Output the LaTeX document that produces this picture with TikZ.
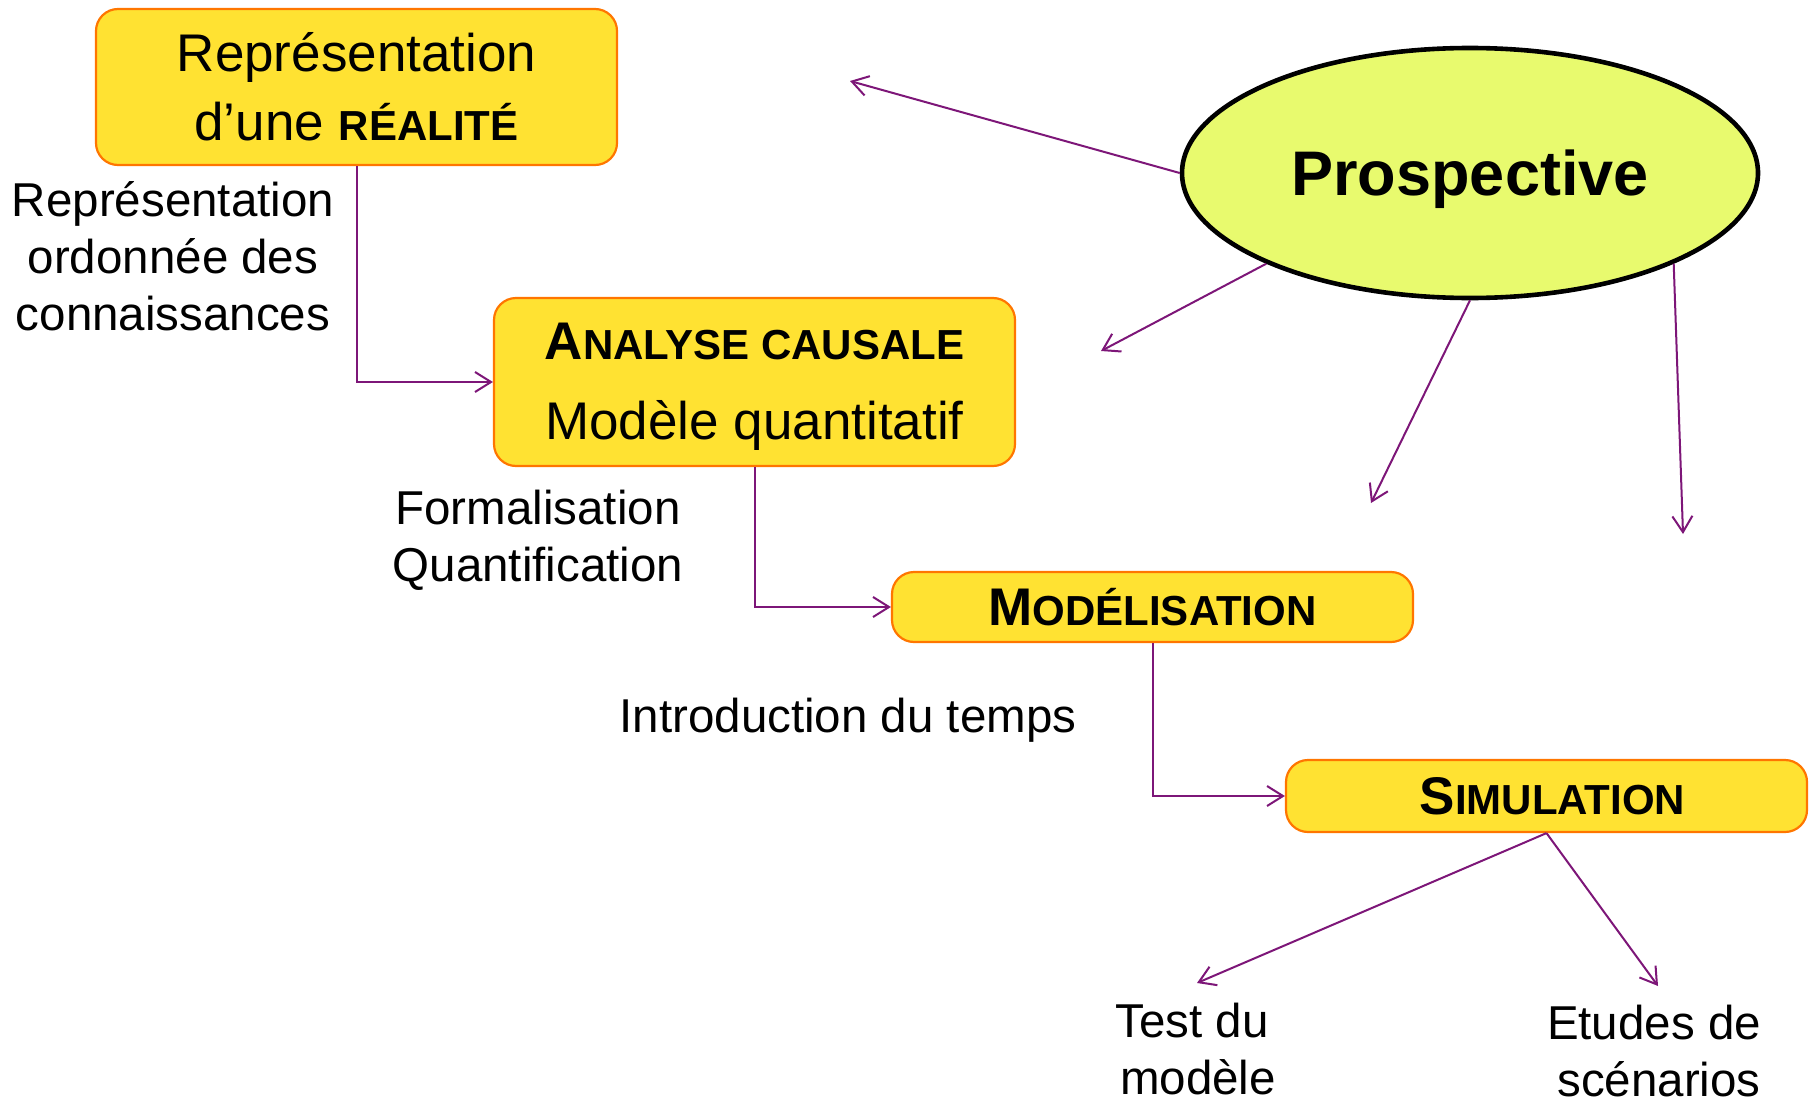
\documentclass[tikz,border=0pt]{standalone}
\usepackage{fontspec}
\setmainfont{Liberation Sans}
\usetikzlibrary{arrows.meta,shapes.geometric}

\definecolor{boxfill}{RGB}{255,226,50}
\definecolor{boxline}{RGB}{255,118,0}
\definecolor{ovalfill}{RGB}{232,250,110}
\definecolor{linkcol}{RGB}{125,22,120}

% smaller capitals used for the pseudo small-caps titles
\newcommand\minicaps[1]{{\fontsize{42}{42}\selectfont #1}}

\tikzset{
  stagebox/.style={draw=boxline, line width=2.2pt, fill=boxfill,
    rounded corners=22pt, minimum width=521pt, inner sep=0pt, align=center},
  plainlabel/.style={align=center, inner sep=0pt,
    font=\fontsize{47.5}{57}\selectfont},
  link/.style={draw=linkcol, line width=2pt,
    -{Straight Barb[length=16pt,width=20pt,line width=2pt]}},
}

\begin{document}
\begin{tikzpicture}[x=1pt,y=-1pt]
\useasboundingbox (0,0) rectangle (1814,1105);

% main stages
\node[stagebox, minimum height=156pt, font=\fontsize{53}{69}\selectfont]
  (real) at (356.5,87) {Représentation\\d’une \textbf{\minicaps{RÉALITÉ}}};
\node[stagebox, minimum height=168pt, text depth=1pt, font=\fontsize{53}{80}\selectfont]
  (cause) at (754.5,382) {\textbf{A\minicaps{NALYSE CAUSALE}}\\Modèle quantitatif};
\node[stagebox, minimum height=70pt, font=\fontsize{53}{60}\selectfont]
  (model) at (1152.5,607) {\textbf{M\minicaps{ODÉLISATION}}};
\node[stagebox, minimum height=72pt, font=\fontsize{53}{60}\selectfont]
  (simu) at (1546.5,796) {\hspace*{12pt}\textbf{S\minicaps{IMULATION}}};

% central oval
\node[ellipse, draw=black, line width=4.6pt, fill=ovalfill,
  minimum width=576pt, minimum height=250pt, inner sep=0pt, text depth=0pt,
  font=\bfseries\fontsize{63}{70}\selectfont] (prosp) at (1470,173) {Prospective};

% side labels
\node[plainlabel] (lab1) at (173,256) {Représentation\\ordonnée des\\connaissances};
\node[plainlabel] (lab2) at (538,540) {Formalisation\\Quantification};
\node[plainlabel] (lab3) at (848,720) {Introduction du temps};
\node[plainlabel] (test) at (1192,1049) {Test du\\\hspace*{12pt}modèle};
\node[plainlabel] (etud) at (1654,1051) {Etudes de\\\hspace*{10pt}scénarios};

% free ends of the arrows leaving the oval and the last stage
\coordinate (p1) at (850,81);
\coordinate (p2) at (1101,351);
\coordinate (p3) at (1371,503);
\coordinate (p4) at (1683,534);
\coordinate (s1) at (1197,983);
\coordinate (s2) at (1658,986);

% chain of stages
\draw[link] (real.south) |- (cause.west);
\draw[link] (cause.south) |- (model.west);
\draw[link] (model.south) |- (simu.west);

% outputs of the simulation
\draw[link] (simu.south) -- (s1);
\draw[link] (simu.south) -- (s2);

% arrows from the oval
\draw[link] (prosp.west) -- (p1);
\draw[link] (prosp.204) -- (p2);
\draw[link] (prosp.south) -- (p3);
\draw[link] (prosp.336) -- (p4);
\end{tikzpicture}
\end{document}
